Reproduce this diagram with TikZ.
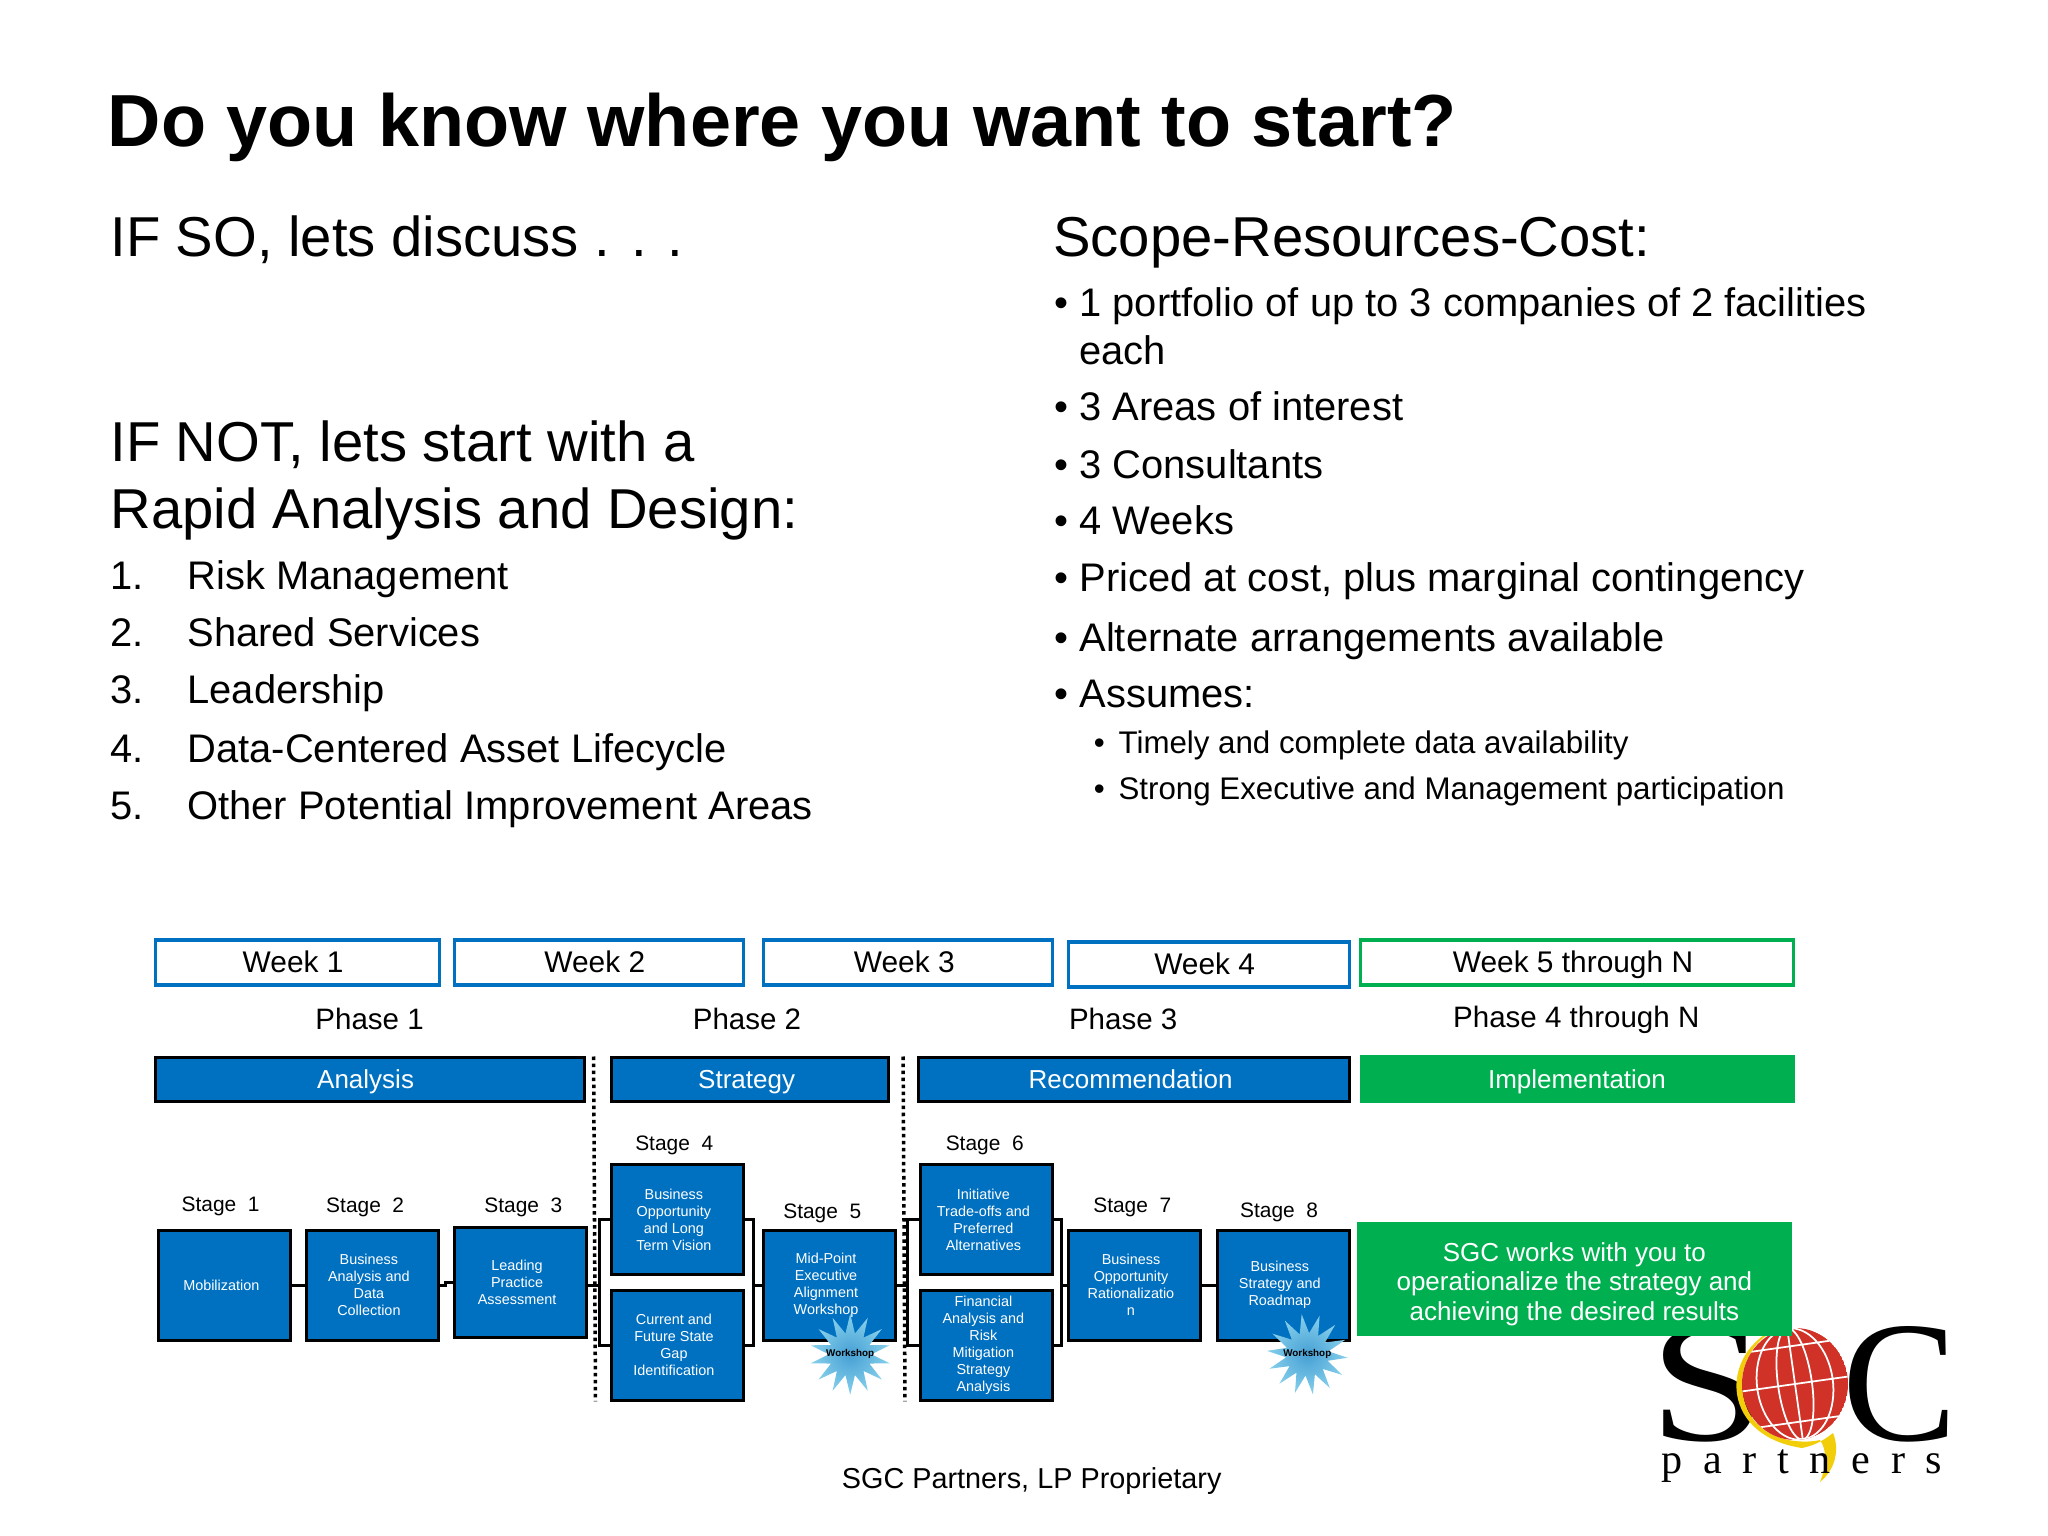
\documentclass[tikz,border=0pt]{standalone}
\usepackage{fontspec}
\setmainfont{Liberation Sans}
\newfontfamily\logofont{Liberation Serif}
\usepackage{tikz}
\usetikzlibrary{calc}
\usetikzlibrary{positioning}
\usetikzlibrary{shapes}
\definecolor{SgcBlue}{RGB}{0,112,192}
\definecolor{SgcGreen}{RGB}{0,176,80}
\definecolor{GlobeRed}{RGB}{208,50,40}
\definecolor{GlobeYellow}{RGB}{242,205,10}
\definecolor{BurstIn}{RGB}{70,160,212}
\definecolor{BurstOut}{RGB}{135,208,236}

\begin{document}
\begin{tikzpicture}[
 auto,
 titletext/.style = {anchor=base west, inner sep=0, font=\fontsize{21}{24}\selectfont\bfseries},
 headtext/.style = {anchor=base west, inner sep=0, font=\fontsize{16}{19}\selectfont},
 itemtext/.style = {anchor=base west, inner sep=0, font=\fontsize{11.35}{14}\selectfont},
 subtext/.style = {anchor=base west, inner sep=0, font=\fontsize{8.9}{11}\selectfont},
 weekbox/.style = {draw=SgcBlue, fill=white, line width=0.9pt, rectangle, minimum height=4.5mm, inner sep=0},
 weektext/.style = {inner sep=0, xshift=-0.04cm, yshift=0.012cm, text height=2.15mm, text depth=0mm, font=\fontsize{8.5}{10}\selectfont},
 phasetext/.style = {inner sep=0, font=\fontsize{8.4}{10}\selectfont},
 barbox/.style = {draw=black, fill=SgcBlue, line width=0.9pt, rectangle, minimum height=4.35mm, inner sep=0},
 bartext/.style = {inner sep=0, text=white, text height=1.9mm, text depth=0mm, font=\fontsize{7.4}{9}\selectfont},
 stagebox/.style = {draw=black, fill=SgcBlue, line width=0.9pt, rectangle, minimum height=11mm, minimum width=13.2mm, inner sep=0},
 boxtext/.style = {inner sep=0, xshift=-0.033cm, align=center, text=white, font=\fontsize{4.1}{4.85}\selectfont},
 stagetext/.style = {inner sep=0, font=\fontsize{5.95}{7}\selectfont},
 link/.style = {draw=black, line width=0.9pt},
 burst/.style = {star, star points=14, star point ratio=1.9, inner sep=0, minimum size=8.1mm, inner color=BurstIn, outer color=BurstOut},
 bursttext/.style = {inner sep=0, font=\fontsize{2.8}{3}\selectfont\bfseries},
                        ]
    \useasboundingbox (0,0) rectangle (20.48,-15.36);

    \node [titletext] (title) at (1.071,-1.466) {Do you know where you want to start?};

    \node [headtext] (ifso) at (1.097,-2.563) {IF SO, lets discuss . . .};
    \node [headtext] (ifnot) at (1.097,-4.613) {IF NOT, lets start with a};
    \node [headtext] (rapid) at (1.097,-5.289) {Rapid Analysis and Design:};

    \node [itemtext] (num1) at (1.097,-5.890) {1.};
    \node [itemtext] (risk) at (1.868,-5.890) {Risk Management};
    \node [itemtext] (num2) at (1.097,-6.462) {2.};
    \node [itemtext] (shared) at (1.868,-6.462) {Shared Services};
    \node [itemtext] (num3) at (1.097,-7.036) {3.};
    \node [itemtext] (leader) at (1.868,-7.036) {Leadership};
    \node [itemtext] (num4) at (1.097,-7.624) {4.};
    \node [itemtext] (data) at (1.868,-7.624) {Data-Centered Asset Lifecycle};
    \node [itemtext] (num5) at (1.097,-8.199) {5.};
    \node [itemtext] (other) at (1.868,-8.199) {Other Potential Improvement Areas};

    \node [headtext] (scope) at (10.526,-2.563) {Scope-Resources-Cost:};
    \node [itemtext] (dot1) at (10.539,-3.162) {\textbullet};
    \node [itemtext] (portfolio) at (10.788,-3.162) {1 portfolio of up to 3 companies of 2 facilities};
    \node [itemtext] (each) at (10.788,-3.646) {each};
    \node [itemtext] (dot2) at (10.539,-4.207) {\textbullet};
    \node [itemtext] (areas) at (10.788,-4.207) {3 Areas of interest};
    \node [itemtext] (dot3) at (10.539,-4.782) {\textbullet};
    \node [itemtext] (consult) at (10.788,-4.782) {3 Consultants};
    \node [itemtext] (dot4) at (10.539,-5.343) {\textbullet};
    \node [itemtext] (weeks) at (10.788,-5.343) {4 Weeks};
    \node [itemtext] (dot5) at (10.539,-5.918) {\textbullet};
    \node [itemtext] (priced) at (10.788,-5.918) {Priced at cost, plus marginal contingency};
    \node [itemtext] (dot6) at (10.539,-6.519) {\textbullet};
    \node [itemtext] (alter) at (10.788,-6.519) {Alternate arrangements available};
    \node [itemtext] (dot7) at (10.539,-7.080) {\textbullet};
    \node [itemtext] (assumes) at (10.788,-7.080) {Assumes:};
    \node [subtext] (dot8) at (10.931,-7.536) {\textbullet};
    \node [subtext] (timely) at (11.179,-7.536) {Timely and complete data availability};
    \node [subtext] (dot9) at (10.931,-7.993) {\textbullet};
    \node [subtext] (strong) at (11.179,-7.993) {Strong Executive and Management participation};

    \node [weekbox, minimum width=28.4mm] (week1) at (2.971,-9.625) {};
    \node at (week1) [weektext] (week1text) {Week 1};
    \node [weekbox, minimum width=28.9mm] (week2) at (5.988,-9.625) {};
    \node at (week2) [weektext] (week2text) {Week 2};
    \node [weekbox, minimum width=28.9mm] (week3) at (9.083,-9.625) {};
    \node at (week3) [weektext] (week3text) {Week 3};
    \node [weekbox, minimum width=28.1mm] (week4) at (12.087,-9.645) {};
    \node at (week4) [weektext] (week4text) {Week 4};
    \node [weekbox, draw=SgcGreen, minimum width=43.3mm] (week5) at (15.770,-9.625) {};
    \node at (week5) [weektext] (week5text) {Week 5 through N};

    \node [phasetext] (phase1) at (3.696,-10.187) {Phase 1};
    \node [phasetext] (phase2) at (7.470,-10.187) {Phase 2};
    \node [phasetext] (phase3) at (11.232,-10.187) {Phase 3};
    \node [phasetext] (phase4) at (15.763,-10.195) {Phase 4 through N};

    \node [barbox, minimum width=42.9mm] (analysis) at (3.696,-10.794) {};
    \node at (analysis) [bartext, xshift=-0.04cm] (analysistext) {Analysis};
    \node [barbox, minimum width=27.7mm] (strategy) at (7.496,-10.794) {};
    \node at (strategy) [bartext, xshift=-0.03cm] (strategytext) {Strategy};
    \node [barbox, minimum width=43.1mm] (recommend) at (11.336,-10.794) {};
    \node at (recommend) [bartext, xshift=-0.03cm] (recommendtext) {Recommendation};
    \node [barbox, draw=none, fill=SgcGreen, minimum width=43.5mm, minimum height=4.8mm] (implement) at (15.770,-10.794) {};
    \node at (implement) [bartext] (implementtext) {Implementation};

    \coordinate (dotA) at (5.936,-10.565);
    \coordinate (dotB) at (5.955,-14.013);
    \coordinate (dotC) at (9.031,-10.565);
    \coordinate (dotD) at (9.050,-14.013);
    \draw [densely dotted, line width=1pt] (dotA) -- (dotB);
    \draw [densely dotted, line width=1pt] (dotC) -- (dotD);

    \node [stagebox] (s1) at (2.246,-12.851) {};
    \node at (s1) [boxtext] (s1text) {Mobilization};
    \node [stagebox] (s2) at (3.722,-12.851) {};
    \node at (s2) [boxtext] (s2text) {Business\\Analysis and\\Data\\Collection};
    \node [stagebox] (s3) at (5.204,-12.825) {};
    \node at (s3) [boxtext] (s3text) {Leading\\Practice\\Assessment};
    \node [stagebox] (s4a) at (6.772,-12.198) {};
    \node at (s4a) [boxtext] (s4atext) {Business\\Opportunity\\and Long\\Term Vision};
    \node [stagebox] (s4b) at (6.772,-13.452) {};
    \node at (s4b) [boxtext] (s4btext) {Current and\\Future State\\Gap\\Identification};
    \node [stagebox] (s5) at (8.293,-12.851) {};
    \node at (s5) [boxtext] (s5text) {Mid-Point\\Executive\\Alignment\\Workshop};
    \node [stagebox] (s6a) at (9.867,-12.198) {};
    \node at (s6a) [boxtext] (s6atext) {Initiative\\Trade-offs and\\Preferred\\Alternatives};
    \node [stagebox] (s6b) at (9.867,-13.452) {};
    \node at (s6b) [boxtext] (s6btext) {Financial\\Analysis and\\Risk\\Mitigation\\Strategy\\Analysis};
    \node [stagebox] (s7) at (11.343,-12.851) {};
    \node at (s7) [boxtext] (s7text) {Business\\Opportunity\\Rationalizatio\\n};
    \node [stagebox] (s8) at (12.831,-12.851) {};
    \node at (s8) [boxtext] (s8text) {Business\\Strategy and\\Roadmap};

    \node at (s1.north) [stagetext, xshift=-0.04cm, yshift=0.22cm] (label1) {Stage\ \ 1};
    \node at (s2.north) [stagetext, xshift=-0.07cm, yshift=0.21cm] (label2) {Stage\ \ 2};
    \node at (s3.north) [stagetext, xshift=0.03cm, yshift=0.19cm] (label3) {Stage\ \ 3};
    \node at (s4a.north) [stagetext, xshift=-0.03cm, yshift=0.18cm] (label4) {Stage\ \ 4};
    \node at (s5.north) [stagetext, xshift=-0.07cm, yshift=0.15cm] (label5) {Stage\ \ 5};
    \node at (s6a.north) [stagetext, xshift=-0.02cm, yshift=0.18cm] (label6) {Stage\ \ 6};
    \node at (s7.north) [stagetext, xshift=-0.02cm, yshift=0.21cm] (label7) {Stage\ \ 7};
    \node at (s8.north) [stagetext, xshift=-0.04cm, yshift=0.16cm] (label8) {Stage\ \ 8};

    \coordinate (jointA) at (5.995,-12.851);
    \coordinate (jointB) at (7.536,-12.851);
    \coordinate (jointC) at (9.077,-12.851);
    \coordinate (jointD) at (10.618,-12.851);

    \path [link] (s1) -- (s2);
    \path [link] (s2.east) -- ++(0.06,0) |- (s3.west);
    \path [link] (s3.east |- jointA) -- (jointA);
    \path [link] (s4a.west) -| (jointA) |- (s4b.west);
    \path [link] (s4a.east) -| (jointB) |- (s4b.east);
    \path [link] (jointB) -- (s5);
    \path [link] (s5) -- (jointC);
    \path [link] (s6a.west) -| (jointC) |- (s6b.west);
    \path [link] (s6a.east) -| (jointD) |- (s6b.east);
    \path [link] (jointD) -- (s7);
    \path [link] (s7) -- (s8);

    \node [burst] (burst1) at (8.502,-13.543) {};
    \node at (burst1) [bursttext] (burst1text) {Workshop};
    \node [burst, shape border rotate=8] (burst2) at (13.073,-13.543) {};
    \node at (burst2) [bursttext] (burst2text) {Workshop};

    % logo
    \node [inner sep=0, anchor=base, xscale=1.22, transform shape, font=\fontsize{49}{50}\selectfont\logofont] (logoS) at (17.08,-14.40) {S};
    \node [inner sep=0, anchor=base, font=\fontsize{49}{50}\selectfont\logofont] (logoC) at (19.00,-14.40) {C};
    \fill [GlobeYellow] (17.85,-13.25) .. controls (17.20,-13.45) and (17.15,-14.35) .. (18.02,-14.48)
          .. controls (18.12,-14.46) and (18.22,-14.42) .. (18.33,-14.33)
          .. controls (18.40,-14.50) and (18.35,-14.70) .. (18.20,-14.82)
          .. controls (18.27,-14.65) and (18.27,-14.50) .. (18.20,-14.40)
          .. controls (18.05,-14.44) and (17.45,-14.45) .. (17.42,-13.85)
          .. controls (17.42,-13.55) and (17.60,-13.35) .. (17.85,-13.25) -- cycle;
    \begin{scope}
      \clip (17.95,-13.84) ellipse (0.53 and 0.56);
      \fill [GlobeRed] (17.95,-13.84) ellipse (0.53 and 0.56);
      \draw [white, line width=0.5pt, rotate around={8:(17.95,-13.84)}]
            (17.2,-13.46) -- (18.7,-13.46)
            (17.2,-13.84) -- (18.7,-13.84)
            (17.2,-14.22) -- (18.7,-14.22)
            (17.95,-13.84) ellipse (0.17 and 0.56)
            (17.95,-13.84) ellipse (0.38 and 0.56)
            (17.95,-14.46) -- (17.95,-13.26);
    \end{scope}
    \node [inner sep=0, anchor=base, font=\fontsize{12}{14}\selectfont\logofont] (logoP) at (18.02,-14.73) {\addfontfeature{LetterSpace=49}partners};

    \node [draw=none, fill=SgcGreen, rectangle, minimum height=11.4mm, minimum width=43.5mm, inner sep=0] (works) at (15.744,-12.792) {};
    \node at (works) [inner sep=0, yshift=-0.05cm, align=center, text=white, font=\fontsize{7.4}{8.5}\selectfont] (workstext) {SGC works with you to\\operationalize the strategy and\\achieving the desired results};

    \node [inner sep=0, font=\fontsize{8.2}{10}\selectfont] (footer) at (10.317,-14.815) {SGC Partners, LP Proprietary};
\end{tikzpicture}
\end{document}
